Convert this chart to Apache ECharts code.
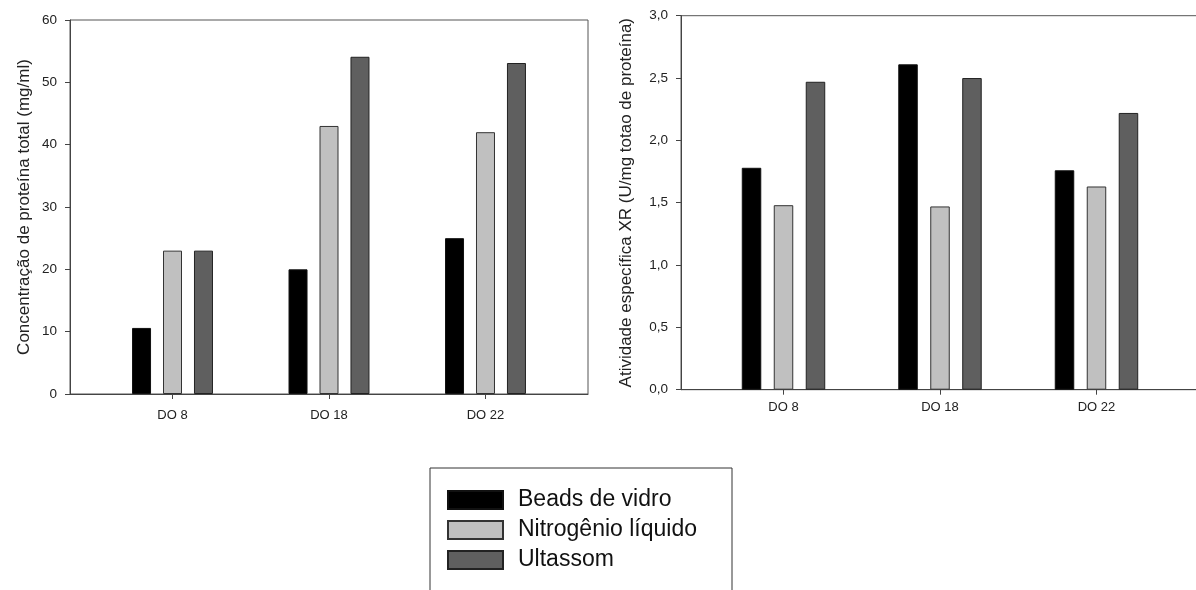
<!DOCTYPE html>
<html>
<head>
<meta charset="utf-8">
<script src="https://cdn.jsdelivr.net/npm/echarts@6/dist/echarts.min.js"></script>
<style>
  html, body { margin: 0; padding: 0; background: #fff; }
  #chart { width: 1196px; height: 590px; }
</style>
</head>
<body>
<div id="chart"></div>
<script>
// ---- data ----
const categories = ['DO 8', 'DO 18', 'DO 22'];
const seriesNames = ['Beads de vidro', 'Nitrogênio líquido', 'Ultassom'];
// left chart: protein concentration (mg/ml)
const proteinBeads = [10.6, 20.0, 25.0];
const proteinNitro = [23.0, 43.0, 42.0];
const proteinUltra = [23.0, 54.1, 53.1];
// right chart: specific activity XR
const activityBeads = [1.78, 2.61, 1.76];
const activityNitro = [1.48, 1.47, 1.63];
const activityUltra = [2.47, 2.50, 2.22];
const leftTicks = [0, 10, 20, 30, 40, 50, 60];
const rightTicks = [0, 0.5, 1.0, 1.5, 2.0, 2.5, 3.0];
const categoryPositions = [1, 2, 3];

const FONT = "'Liberation Sans', Arial, sans-serif";
const colors = ['#000000', '#c0c0c0', '#5f5f5f'];

function pairs(vals) { return vals.map((v, i) => [categoryPositions[i], v]); }

function xAxisFor(gridIndex, labelMargin) {
  return {
    type: 'value', gridIndex: gridIndex, min: 0.345, max: 3.655,
    axisLine: { show: true, onZero: false, lineStyle: { color: '#444', width: 1 } },
    axisTick: { show: true, inside: false, length: 5, customValues: categoryPositions, lineStyle: { color: '#444' } },
    axisLabel: {
      customValues: categoryPositions, margin: labelMargin, color: '#222', fontSize: 13, fontFamily: FONT,
      formatter: v => categories[Math.round(v) - 1] || ''
    },
    splitLine: { show: false }
  };
}

const chart = echarts.init(document.getElementById('chart'), null, { renderer: 'canvas' });
chart.setOption({
  backgroundColor: '#ffffff',
  animation: false,
  grid: [
    { left: 70, top: 20, width: 518, height: 374, show: true, borderColor: '#555', borderWidth: 1,
      backgroundColor: 'transparent', outerBoundsMode: 'none', containLabel: false },
    { left: 681, top: 15.7, width: 518, height: 374, show: true, borderColor: '#555', borderWidth: 1,
      backgroundColor: 'transparent', outerBoundsMode: 'none', containLabel: false }
  ],
  xAxis: [xAxisFor(0, 15), xAxisFor(1, 11)],
  yAxis: [
    {
      type: 'value', gridIndex: 0, min: leftTicks[0], max: leftTicks[leftTicks.length - 1], interval: 10,
      name: 'Concentração de proteína total (mg/ml)', nameLocation: 'middle', nameGap: 37, nameRotate: 90,
      nameTextStyle: { fontSize: 17, color: '#222', fontFamily: FONT },
      axisLine: { show: true, lineStyle: { color: '#444' } },
      axisTick: { show: true, inside: false, length: 5, lineStyle: { color: '#444' } },
      axisLabel: { margin: 13, color: '#222', fontSize: 13.5, fontFamily: FONT },
      splitLine: { show: false }
    },
    {
      type: 'value', gridIndex: 1, min: rightTicks[0], max: rightTicks[rightTicks.length - 1], interval: 0.5,
      name: 'Atividade específica XR (U/mg totao de proteína)', nameLocation: 'middle', nameGap: 46, nameRotate: 90,
      nameTextStyle: { fontSize: 17, color: '#222', fontFamily: FONT },
      axisLine: { show: true, lineStyle: { color: '#444' } },
      axisTick: { show: true, inside: false, length: 5, lineStyle: { color: '#444' } },
      axisLabel: { margin: 13, color: '#222', fontSize: 13.5, fontFamily: FONT,
        formatter: v => v.toFixed(1).replace('.', ',') },
      splitLine: { show: false }
    }
  ],
  legend: {
    data: seriesNames,
    orient: 'vertical', left: 430, top: 468, height: 120,
    padding: [20.5, 35, 23, 17],
    borderColor: '#333', borderWidth: 1,
    itemWidth: 55, itemHeight: 18, itemGap: 7,
    icon: 'rect',
    textStyle: { fontSize: 23, color: '#111', fontFamily: FONT, padding: [0, 0, 0, 10] }
  },
  series: [
    { name: seriesNames[0], type: 'bar', xAxisIndex: 0, yAxisIndex: 0, data: pairs(proteinBeads), barWidth: 19, barGap: '63%',
      itemStyle: { color: colors[0], borderColor: '#111', borderWidth: 1 } },
    { name: seriesNames[1], type: 'bar', xAxisIndex: 0, yAxisIndex: 0, data: pairs(proteinNitro), barWidth: 19, barGap: '63%',
      itemStyle: { color: colors[1], borderColor: '#333', borderWidth: 1 } },
    { name: seriesNames[2], type: 'bar', xAxisIndex: 0, yAxisIndex: 0, data: pairs(proteinUltra), barWidth: 19, barGap: '63%',
      itemStyle: { color: colors[2], borderColor: '#222', borderWidth: 1 } },
    { name: seriesNames[0], type: 'bar', xAxisIndex: 1, yAxisIndex: 1, data: pairs(activityBeads), barWidth: 19.5, barGap: '64%',
      itemStyle: { color: colors[0], borderColor: '#111', borderWidth: 1 } },
    { name: seriesNames[1], type: 'bar', xAxisIndex: 1, yAxisIndex: 1, data: pairs(activityNitro), barWidth: 19.5, barGap: '64%',
      itemStyle: { color: colors[1], borderColor: '#333', borderWidth: 1 } },
    { name: seriesNames[2], type: 'bar', xAxisIndex: 1, yAxisIndex: 1, data: pairs(activityUltra), barWidth: 19.5, barGap: '64%',
      itemStyle: { color: colors[2], borderColor: '#222', borderWidth: 1 } }
  ]
});
</script>
</body>
</html>
